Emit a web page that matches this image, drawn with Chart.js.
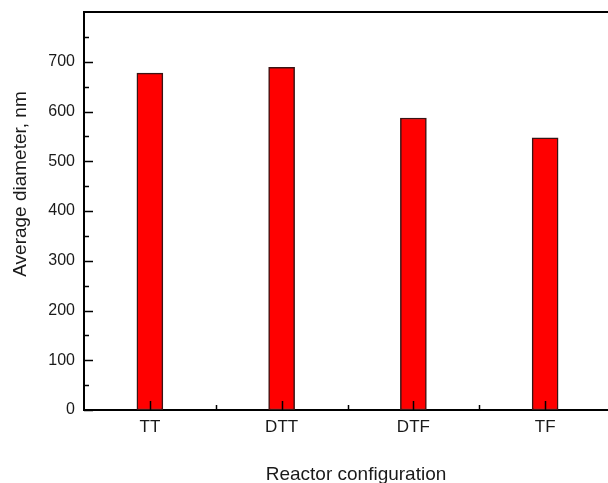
<!DOCTYPE html>
<html>
<head>
<meta charset="utf-8">
<script src="https://cdn.jsdelivr.net/npm/chart.js@4/dist/chart.umd.min.js"></script>
<style>
  html, body { margin: 0; padding: 0; background: #fff; overflow: hidden; }
  #wrap { width: 611px; height: 483px; }
</style>
</head>
<body>
<div id="wrap"><canvas id="barChart" width="611" height="483"></canvas></div>
<script>
const categories = ['TT', 'DTT', 'DTF', 'TF'];
const diameters = [677, 689, 587, 547];
const yTicks = [0, 100, 200, 300, 400, 500, 600, 700, 800];
const xTitle = 'Reactor configuration';
const yTitle = 'Average diameter, nm';

const FONT = '"Liberation Sans", Arial, sans-serif';
const INK = '#1a1a1a';

// inward tick marks (major + minor), top frame line and the axis titles
const frameAndTitles = {
  id: 'frameAndTitles',
  afterDatasetsDraw(chart) {
    const { ctx, chartArea, scales } = chart;
    const x = scales.x, y = scales.y;
    ctx.save();
    ctx.strokeStyle = '#000';
    ctx.lineWidth = 1.5;
    ctx.beginPath();
    for (let v = 0; v < 800; v += 50) {
      const py = Math.round(y.getPixelForValue(v)) + 0.5;
      const len = v % 100 === 0 ? 9 : 5;
      ctx.moveTo(chartArea.left, py);
      ctx.lineTo(chartArea.left + len, py);
    }
    for (let i = 0; i < categories.length; i++) {
      const px = Math.round(x.getPixelForValue(i)) + 0.5;
      ctx.moveTo(px, chartArea.bottom);
      ctx.lineTo(px, chartArea.bottom - 9);
      const mx = Math.round(x.getPixelForValue(i + 0.5)) + 0.5;
      ctx.moveTo(mx, chartArea.bottom);
      ctx.lineTo(mx, chartArea.bottom - 5);
    }
    ctx.stroke();
    ctx.lineWidth = 2;
    ctx.beginPath();
    ctx.moveTo(chartArea.left, chartArea.top);
    ctx.lineTo(chartArea.right, chartArea.top);
    ctx.stroke();

    // titles (the original sits a bit off-centre)
    ctx.fillStyle = INK;
    ctx.font = '19px ' + FONT;
    ctx.textAlign = 'center';
    ctx.textBaseline = 'alphabetic';
    ctx.fillText(xTitle, 356, 480);
    ctx.translate(26, 184);
    ctx.rotate(-Math.PI / 2);
    ctx.fillText(yTitle, 0, 0);
    ctx.restore();
  }
};

Chart.defaults.font.family = FONT;
Chart.defaults.color = INK;

new Chart(document.getElementById('barChart').getContext('2d'), {
  type: 'bar',
  data: {
    labels: categories,
    datasets: [{
      data: diameters,
      backgroundColor: '#ff0000',
      borderColor: '#3a1414',
      borderWidth: 1.5,
      borderSkipped: false,
      barThickness: 26
    }]
  },
  options: {
    responsive: false,
    animation: false,
    layout: { padding: { top: 12, left: 0, right: 0, bottom: 0 } },
    plugins: { legend: { display: false }, tooltip: { enabled: false } },
    scales: {
      x: {
        grid: { display: false, drawTicks: false },
        border: { display: true, color: '#000', width: 2 },
        ticks: { font: { size: 17 }, padding: 7 },
        afterFit(scale) {
          scale.height = 73;
          scale.paddingLeft = 0;
          scale.paddingRight = 0;
        }
      },
      y: {
        min: 0,
        max: 800,
        afterBuildTicks(scale) { scale.ticks = yTicks.map(v => ({ value: v })); },
        grid: { display: false, drawTicks: false },
        border: { display: true, color: '#000', width: 2 },
        ticks: {
          font: { size: 16 },
          padding: 9,
          callback: v => (v === 800 ? '' : v)
        },
        afterFit(scale) {
          scale.width = 84;
          scale.paddingTop = 0;
          scale.paddingBottom = 0;
        }
      }
    }
  },
  plugins: [frameAndTitles]
});
</script>
</body>
</html>
